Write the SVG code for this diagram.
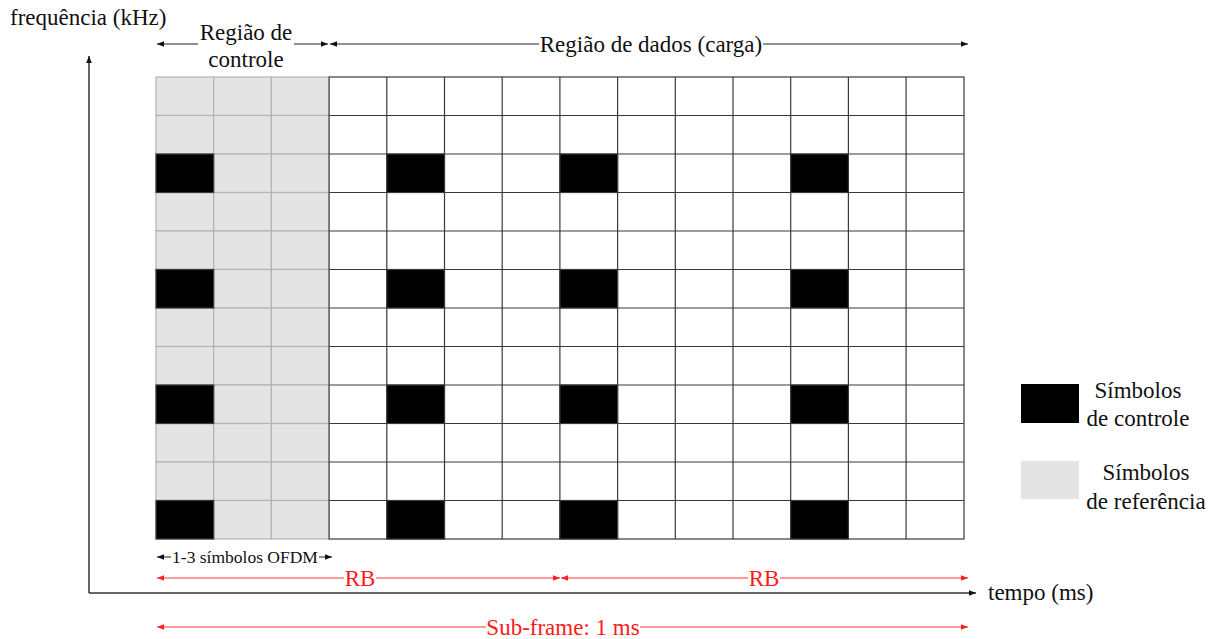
<svg xmlns="http://www.w3.org/2000/svg" width="1220" height="639" viewBox="0 0 1220 639">
<style>
text{font-family:"Liberation Serif","Times New Roman",serif;fill:#111}
.t{font-size:23px}
.s{font-size:17.5px}
.r{fill:#ff1a1a;font-size:23px}
.g{fill:#e4e4e4;stroke:#b4b4b4;stroke-width:1.2}
.b{fill:#000;stroke:#3a3a3a;stroke-width:1.2}
.ax{stroke:#333;stroke-width:1.5;fill:none}
.ka{stroke:#222;stroke-width:1;fill:none}
.ra{stroke:#ff3333;stroke-width:1.2;fill:none}
</style>
<defs>
<marker id="ah" viewBox="0 0 10 10" refX="10" refY="5" markerWidth="9" markerHeight="7" orient="auto-start-reverse" markerUnits="userSpaceOnUse"><path d="M0,1 L10,5 L0,9 z" fill="#111"/></marker>
<marker id="rh" viewBox="0 0 10 10" refX="10" refY="5" markerWidth="9" markerHeight="7" orient="auto-start-reverse" markerUnits="userSpaceOnUse"><path d="M0,1 L10,5 L0,9 z" fill="#ff2020"/></marker>
</defs>
<rect width="1220" height="639" fill="#fff"/>
<g id="grid">
<g id="control-region">
<rect class="g" x="156" y="77" width="57.7" height="38.5"/><rect class="g" x="213.7" y="77" width="57.7" height="38.5"/><rect class="g" x="271.4" y="77" width="57.7" height="38.5"/>
<rect class="g" x="156" y="115.5" width="57.7" height="38.5"/><rect class="g" x="213.7" y="115.5" width="57.7" height="38.5"/><rect class="g" x="271.4" y="115.5" width="57.7" height="38.5"/>
<rect class="g" x="156" y="154" width="57.7" height="38.5"/><rect class="g" x="213.7" y="154" width="57.7" height="38.5"/><rect class="g" x="271.4" y="154" width="57.7" height="38.5"/>
<rect class="g" x="156" y="192.5" width="57.7" height="38.5"/><rect class="g" x="213.7" y="192.5" width="57.7" height="38.5"/><rect class="g" x="271.4" y="192.5" width="57.7" height="38.5"/>
<rect class="g" x="156" y="231" width="57.7" height="38.5"/><rect class="g" x="213.7" y="231" width="57.7" height="38.5"/><rect class="g" x="271.4" y="231" width="57.7" height="38.5"/>
<rect class="g" x="156" y="269.5" width="57.7" height="38.5"/><rect class="g" x="213.7" y="269.5" width="57.7" height="38.5"/><rect class="g" x="271.4" y="269.5" width="57.7" height="38.5"/>
<rect class="g" x="156" y="308" width="57.7" height="38.5"/><rect class="g" x="213.7" y="308" width="57.7" height="38.5"/><rect class="g" x="271.4" y="308" width="57.7" height="38.5"/>
<rect class="g" x="156" y="346.5" width="57.7" height="38.5"/><rect class="g" x="213.7" y="346.5" width="57.7" height="38.5"/><rect class="g" x="271.4" y="346.5" width="57.7" height="38.5"/>
<rect class="g" x="156" y="385" width="57.7" height="38.5"/><rect class="g" x="213.7" y="385" width="57.7" height="38.5"/><rect class="g" x="271.4" y="385" width="57.7" height="38.5"/>
<rect class="g" x="156" y="423.5" width="57.7" height="38.5"/><rect class="g" x="213.7" y="423.5" width="57.7" height="38.5"/><rect class="g" x="271.4" y="423.5" width="57.7" height="38.5"/>
<rect class="g" x="156" y="462" width="57.7" height="38.5"/><rect class="g" x="213.7" y="462" width="57.7" height="38.5"/><rect class="g" x="271.4" y="462" width="57.7" height="38.5"/>
<rect class="g" x="156" y="500.5" width="57.7" height="38.5"/><rect class="g" x="213.7" y="500.5" width="57.7" height="38.5"/><rect class="g" x="271.4" y="500.5" width="57.7" height="38.5"/>
<rect class="b" x="156" y="154" width="57.7" height="38.5"/>
<rect class="b" x="156" y="269.5" width="57.7" height="38.5"/>
<rect class="b" x="156" y="385" width="57.7" height="38.5"/>
<rect class="b" x="156" y="500.5" width="57.7" height="38.5"/>
</g>
<g id="data-region">
<rect x="329.1" y="77" width="634.9" height="462" fill="#fff" stroke="#3a3a3a" stroke-width="1.2"/>
<path d="M386.8,77V539M444.5,77V539M502.2,77V539M559.9,77V539M617.6,77V539M675.3,77V539M733,77V539M790.7,77V539M848.4,77V539M906.1,77V539M329.1,115.5H964M329.1,154H964M329.1,192.5H964M329.1,231H964M329.1,269.5H964M329.1,308H964M329.1,346.5H964M329.1,385H964M329.1,423.5H964M329.1,462H964M329.1,500.5H964" stroke="#3a3a3a" stroke-width="1.2" fill="none"/>
<rect class="b" x="386.8" y="154" width="57.7" height="38.5"/><rect class="b" x="559.9" y="154" width="57.7" height="38.5"/><rect class="b" x="790.7" y="154" width="57.7" height="38.5"/>
<rect class="b" x="386.8" y="269.5" width="57.7" height="38.5"/><rect class="b" x="559.9" y="269.5" width="57.7" height="38.5"/><rect class="b" x="790.7" y="269.5" width="57.7" height="38.5"/>
<rect class="b" x="386.8" y="385" width="57.7" height="38.5"/><rect class="b" x="559.9" y="385" width="57.7" height="38.5"/><rect class="b" x="790.7" y="385" width="57.7" height="38.5"/>
<rect class="b" x="386.8" y="500.5" width="57.7" height="38.5"/><rect class="b" x="559.9" y="500.5" width="57.7" height="38.5"/><rect class="b" x="790.7" y="500.5" width="57.7" height="38.5"/>
</g>
</g>
<g id="connectors">
<path class="ax" d="M89,593V56" marker-end="url(#ah)"/>
<path class="ax" d="M89,593H976" marker-end="url(#ah)"/>
<path class="ka" d="M198,44H157" marker-end="url(#ah)"/>
<path class="ka" d="M294,44H328" marker-end="url(#ah)"/>
<path class="ka" d="M539,44H330" marker-end="url(#ah)"/>
<path class="ka" d="M763,44H968" marker-end="url(#ah)"/>
<path class="ka" d="M171,557H157" marker-end="url(#ah)"/>
<path class="ka" d="M319,557H332" marker-end="url(#ah)"/>
<path class="ra" d="M344,578H157" marker-end="url(#rh)"/>
<path class="ra" d="M376,578H560" marker-end="url(#rh)"/>
<path class="ra" d="M748,578H561" marker-end="url(#rh)"/>
<path class="ra" d="M780,578H968" marker-end="url(#rh)"/>
<path class="ra" d="M486,627H157" marker-end="url(#rh)"/>
<path class="ra" d="M640,627H968" marker-end="url(#rh)"/>
</g>
<g id="labels">
<text class="t" x="10" y="25">frequência (kHz)</text>
<text class="t" x="246" y="40" text-anchor="middle">Região de</text>
<text class="t" x="246" y="67" text-anchor="middle">controle</text>
<text class="t" x="651" y="52" text-anchor="middle">Região de dados (carga)</text>
<text class="s" x="245" y="563" text-anchor="middle">1-3 símbolos OFDM</text>
<text class="r" x="360" y="586" text-anchor="middle">RB</text>
<text class="r" x="764" y="586" text-anchor="middle">RB</text>
<text class="r" x="563" y="635" text-anchor="middle">Sub-frame: 1 ms</text>
<text class="t" x="988" y="600">tempo (ms)</text>
</g>
<g id="legend-control">
<rect x="1021" y="384" width="58" height="39" fill="#000"/>
<text class="t" x="1138" y="398" text-anchor="middle">Símbolos</text>
<text class="t" x="1138" y="426" text-anchor="middle">de controle</text>
</g>
<g id="legend-reference">
<rect x="1021" y="461" width="58" height="38" fill="#e4e4e4"/>
<text class="t" x="1146" y="480" text-anchor="middle">Símbolos</text>
<text class="t" x="1146" y="509" text-anchor="middle">de referência</text>
</g>
</svg>
